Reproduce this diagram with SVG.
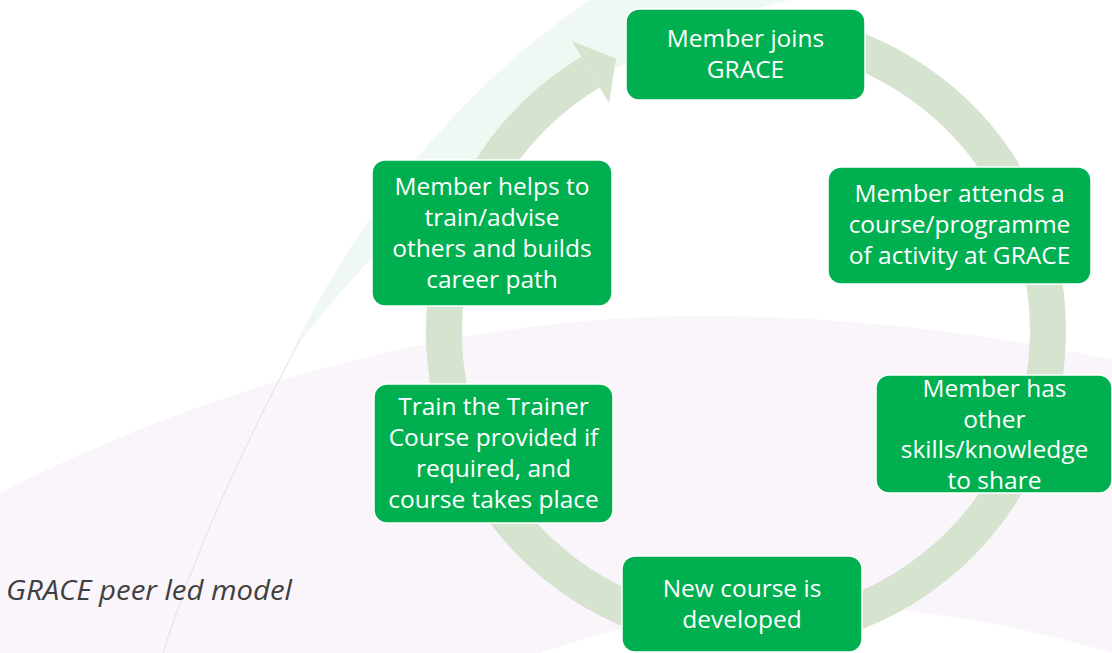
<svg xmlns="http://www.w3.org/2000/svg" width="1112" height="653" viewBox="0 0 1112 653">
  <style>
    .box { fill: #00B050; stroke: #FFFFFF; stroke-width: 1.5; }
    .label { font-family: "Open Sans", "Liberation Sans", sans-serif; font-size: 24.5px; fill: #FFFFFF; text-anchor: middle; }
    .caption { font-family: "Open Sans", "Liberation Sans", sans-serif; font-size: 27px; font-style: italic; fill: #404040; }
    .ring { fill: none; stroke: #D6E3CF; stroke-width: 36; }
  </style>

  <!-- backdrop -->
  <g id="background">
    <rect x="0" y="0" width="1112" height="653" fill="#FFFFFF"/>
    <path d="M 0 493 C 200 390, 450 316, 700 316 C 850 316, 1000 335, 1112 360 L 1112 653 Q 800 560 540 653 L 0 653 Z" fill="#FAF5FA"/>
    <path d="M 590 0 C 470 80, 360 210, 292 352 C 430 170, 620 40, 790 0 Z" fill="#EFF8F2"/>
    <path d="M 300 340 C 255 425, 200 535, 163 653" fill="none" stroke="#E8DCEC" stroke-width="1"/>
  </g>

  <!-- cycle connector -->
  <g id="connectors">
    <path class="ring" d="M 798.44 33.59 A 302 302 0 1 1 590.46 72.13"/>
    <path d="M 571.92 41.28 L 615.99 58.42 L 609.0 103.0 Z" fill="#D6E3CF"/>
  </g>

  <g id="node-join">
    <rect class="box" x="626" y="9" width="239" height="91" rx="13"/>
    <text class="label" x="745.5" y="47">Member joins</text>
    <text class="label" x="745.5" y="78">GRACE</text>
  </g>

  <g id="node-attend">
    <rect class="box" x="828" y="167" width="263" height="117" rx="13"/>
    <text class="label" x="959.5" y="202">Member attends a</text>
    <text class="label" x="959.5" y="233">course/programme</text>
    <text class="label" x="959.5" y="264">of activity at GRACE</text>
  </g>

  <g id="node-skills">
    <rect class="box" x="876" y="375" width="236" height="118" rx="13"/>
    <text class="label" x="994.5" y="397">Member has</text>
    <text class="label" x="994.5" y="428">other</text>
    <text class="label" x="994.5" y="458">skills/knowledge</text>
    <text class="label" x="994.5" y="489">to share</text>
  </g>

  <g id="node-develop">
    <rect class="box" x="622" y="556" width="240" height="96" rx="13"/>
    <text class="label" x="742" y="597">New course is</text>
    <text class="label" x="742" y="628">developed</text>
  </g>

  <g id="node-train">
    <rect class="box" x="374" y="384" width="239" height="139" rx="13"/>
    <text class="label" x="493.5" y="415">Train the Trainer</text>
    <text class="label" x="493.5" y="446">Course provided if</text>
    <text class="label" x="493.5" y="477">required, and</text>
    <text class="label" x="493.5" y="508">course takes place</text>
  </g>

  <g id="node-helps">
    <rect class="box" x="372" y="160" width="240" height="146" rx="13"/>
    <text class="label" x="492" y="195">Member helps to</text>
    <text class="label" x="492" y="226">train/advise</text>
    <text class="label" x="492" y="257">others and builds</text>
    <text class="label" x="492" y="288">career path</text>
  </g>

  <text class="caption" x="6" y="600" textLength="286" lengthAdjust="spacingAndGlyphs">GRACE peer led model</text>
</svg>
